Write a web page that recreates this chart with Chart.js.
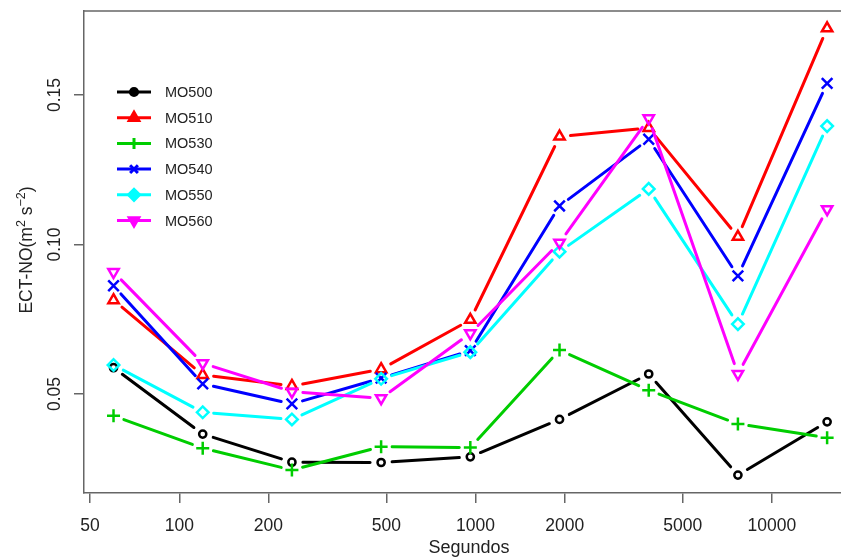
<!DOCTYPE html>
<html>
<head>
<meta charset="utf-8">
<script src="https://cdn.jsdelivr.net/npm/chart.js@4.4.1/dist/chart.umd.min.js"></script>
<style>
    html, body { margin: 0; padding: 0; background: #fff; }
</style>
</head>
<body>
<canvas id="grafico" width="841" height="557"></canvas>
<script>
const $ = id => document.getElementById(id);

// tempos (s) e valores de ECT-NO lidos do gráfico
const segundos = [60, 120, 240, 480, 960, 1920, 3840, 7680, 15360];

const mo500 = [0.0588, 0.0366, 0.0272, 0.0271, 0.0290, 0.0415, 0.0567, 0.0229, 0.0407];
const mo510 = [0.0814, 0.0564, 0.0527, 0.0583, 0.0748, 0.1361, 0.1390, 0.1026, 0.1723];
const mo530 = [0.0427, 0.0319, 0.0246, 0.0324, 0.0321, 0.0647, 0.0513, 0.0400, 0.0354];
const mo540 = [0.0862, 0.0534, 0.0467, 0.0553, 0.0645, 0.1129, 0.1352, 0.0895, 0.1539];
const mo550 = [0.0597, 0.0439, 0.0415, 0.0551, 0.0640, 0.0976, 0.1186, 0.0734, 0.1396];
const mo560 = [0.0908, 0.0603, 0.0508, 0.0486, 0.0703, 0.1006, 0.1422, 0.0567, 0.1118];

const nomes = ["MO500", "MO510", "MO530", "MO540", "MO550", "MO560"];
const valores = [mo500, mo510, mo530, mo540, mo550, mo560];

const xTicks = [50, 100, 200, 500, 1000, 2000, 5000, 10000];
const yTicks = [0.05, 0.10, 0.15];

const cores = ["#000000", "#ff0000", "#00cd00", "#0000ff", "#00ffff", "#ff00ff"];
const marcas = [
    { estilo: "circle", r: 3.6, rot: 0 },
    { estilo: "triangle", r: 6, rot: 0 },
    { estilo: "cross", r: 6.5, rot: 0 },
    { estilo: "crossRot", r: 7.5, rot: 0 },
    { estilo: "rectRot", r: 5.8, rot: 0 },
    { estilo: "triangle", r: 6, rot: 180 }
];

const FONTE = "'Liberation Sans', Arial, sans-serif";
const TEXTO = "#222";
const EIXO = "#666";

// linhas do tipo "b" do R: segmentos que param antes dos pontos
const trazos = {
    id: "trazos",
    beforeDatasetDraw(chart, args) {
        const ctx = chart.ctx;
        const pts = args.meta.data;
        const gap = 11;
        ctx.save();
        ctx.strokeStyle = chart.data.datasets[args.index].borderColor;
        ctx.lineWidth = 3;
        ctx.lineCap = "round";
        for (let i = 1; i < pts.length; i++) {
            const a = pts[i - 1], b = pts[i];
            const dx = b.x - a.x, dy = b.y - a.y;
            const len = Math.hypot(dx, dy);
            if (len <= 2 * gap) continue;
            const ux = dx / len, uy = dy / len;
            ctx.beginPath();
            ctx.moveTo(a.x + ux * gap, a.y + uy * gap);
            ctx.lineTo(b.x - ux * gap, b.y - uy * gap);
            ctx.stroke();
        }
        ctx.restore();
    },
    afterDraw(chart) {
        const ctx = chart.ctx;
        const area = chart.chartArea;
        const y = chart.scales.y;

        ctx.save();
        // borda superior da caixa
        ctx.strokeStyle = EIXO;
        ctx.lineWidth = 1.5;
        ctx.beginPath();
        ctx.moveTo(area.left, area.top);
        ctx.lineTo(chart.width, area.top);
        ctx.stroke();

        // título do eixo x, centrado na região original do R
        ctx.fillStyle = TEXTO;
        ctx.font = `18px ${FONTE}`;
        ctx.textAlign = "center";
        ctx.textBaseline = "middle";
        ctx.fillText("Segundos", 469, 548);

        // rótulos do eixo y, girados como no R
        ctx.font = `17.5px ${FONTE}`;
        ctx.textBaseline = "alphabetic";
        yTicks.forEach(v => {
            ctx.save();
            ctx.translate(60, y.getPixelForValue(v));
            ctx.rotate(-Math.PI / 2);
            ctx.fillText(v.toFixed(2), 0, 0);
            ctx.restore();
        });

        // título do eixo y com expoentes
        const partes = [
            { t: "ECT-NO(m", s: 17.5, up: 0 },
            { t: "2", s: 12.5, up: 7 },
            { t: " s", s: 17.5, up: 0 },
            { t: "\u22122", s: 12.5, up: 7 },
            { t: ")", s: 17.5, up: 0 }
        ];
        let total = 0;
        partes.forEach(p => {
            ctx.font = `${p.s}px ${FONTE}`;
            p.w = ctx.measureText(p.t).width;
            total += p.w;
        });
        ctx.save();
        ctx.translate(32, 250 + total / 2);
        ctx.rotate(-Math.PI / 2);
        ctx.textAlign = "left";
        let px = 0;
        partes.forEach(p => {
            ctx.font = `${p.s}px ${FONTE}`;
            ctx.fillText(p.t, px, -p.up);
            px += p.w;
        });
        ctx.restore();

        // legenda
        ctx.font = `14.5px ${FONTE}`;
        ctx.textAlign = "left";
        ctx.textBaseline = "middle";
        nomes.forEach((nome, i) => {
            const ly = 92 + i * 25.7;
            ctx.strokeStyle = cores[i];
            ctx.fillStyle = cores[i];
            ctx.lineWidth = 3;
            ctx.beginPath();
            ctx.moveTo(117, ly);
            ctx.lineTo(151, ly);
            ctx.stroke();
            const m = marcas[i];
            Chart.helpers.drawPoint(ctx, {
                pointStyle: m.estilo,
                rotation: m.rot,
                radius: Math.min(m.r, 5.5),
                borderWidth: 2.5
            }, 134, ly);
            ctx.fillStyle = TEXTO;
            ctx.fillText(nome, 165, ly + 1);
        });
        ctx.restore();
    }
};

const datasets = nomes.map((nome, i) => ({
    label: nome,
    data: segundos.map((s, j) => ({ x: s, y: valores[i][j] })),
    borderColor: cores[i],
    backgroundColor: "rgba(0,0,0,0)",
    pointStyle: marcas[i].estilo,
    pointRadius: marcas[i].r,
    pointRotation: marcas[i].rot,
    pointBorderWidth: 2.5,
    pointBorderColor: cores[i],
    pointBackgroundColor: "rgba(0,0,0,0)",
    showLine: false,
    order: nomes.length - i
}));

const grade = {
    drawOnChartArea: false,
    drawTicks: true,
    tickLength: 10,
    color: EIXO,
    lineWidth: 1.5
};

new Chart($("grafico"), {
    type: "scatter",
    data: { datasets },
    options: {
        responsive: false,
        animation: false,
        devicePixelRatio: 1,
        layout: { autoPadding: false, padding: { top: 11, right: 0, left: 0, bottom: 0 } },
        plugins: {
            legend: { display: false },
            tooltip: { enabled: false }
        },
        scales: {
            x: {
                type: "logarithmic",
                min: 47.7,
                max: 17110,
                afterBuildTicks: s => { s.ticks = xTicks.map(v => ({ value: v })); },
                afterFit: s => {
                    s.height = 64;
                    s.paddingLeft = 0;
                    s.paddingRight = 0;
                },
                ticks: {
                    callback: v => String(v),
                    autoSkip: false,
                    maxRotation: 0,
                    padding: 13,
                    color: TEXTO,
                    font: { size: 17.5, family: FONTE }
                },
                grid: grade,
                border: { color: EIXO, width: 1.5 }
            },
            y: {
                min: 0.0169,
                max: 0.1781,
                afterBuildTicks: s => { s.ticks = yTicks.map(v => ({ value: v })); },
                afterFit: s => {
                    s.width = 84;
                    s.paddingTop = 0;
                    s.paddingBottom = 0;
                },
                ticks: { display: false },
                grid: grade,
                border: { color: EIXO, width: 1.5 }
            }
        }
    },
    plugins: [trazos]
});
</script>
</body>
</html>
